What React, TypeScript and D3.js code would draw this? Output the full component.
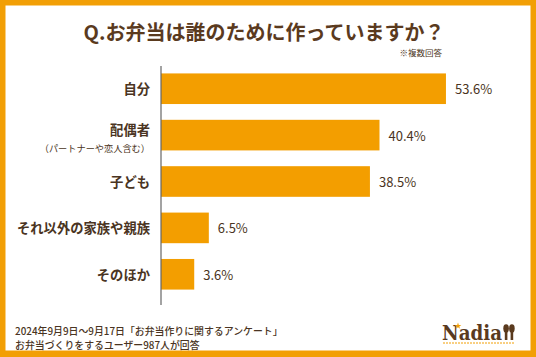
import React from "react";
import * as d3 from "d3";

const categories = ["自分", "配偶者", "子ども", "それ以外の家族や親族", "そのほか"];
const subLabels = ["", "（パートナーや恋人含む）", "", "", ""];
const values = [53.6, 40.4, 38.5, 6.5, 3.6];
const valueLabels = ["53.6%", "40.4%", "38.5%", "6.5%", "3.6%"];
const xDomain = [-3, 55];

const W = 536;
const H = 357;
const ORANGE = "#F29F05";
const BAR = "#F39E00";
const BROWN = "#4A3422";
const FONT = "'Noto Sans CJK JP', 'Noto Sans', sans-serif";

export default function App() {
  const x = d3.scaleLinear().domain(xDomain).range([161, 453]);
  const y = d3
    .scaleBand<string>()
    .domain(categories)
    .range([66, 297])
    .paddingInner(0.34)
    .paddingOuter(0.16);
  const x0 = x(xDomain[0]);

  return (
    <svg
      width={W}
      height={H}
      style={{ position: "absolute", left: 0, top: 0, display: "block" }}
      fontFamily={FONT}
    >
      <rect x={0} y={0} width={W} height={H} fill={ORANGE} />
      <rect x={5.5} y={5.5} width={525} height={345} fill="#ffffff" />

      <text
        x={264}
        y={31}
        textAnchor="middle"
        dominantBaseline="central"
        fontSize={20}
        fontWeight={700}
        fill="#5A3A1E"
      >
        Q.お弁当は誰のために作っていますか？
      </text>
      <text
        x={442}
        y={52}
        textAnchor="end"
        dominantBaseline="central"
        fontSize={8.5}
        fill={BROWN}
      >
        ※複数回答
      </text>

      {categories.map((c, i) => {
        const by = y(c)!;
        const bh = y.bandwidth();
        const cy = by + bh / 2;
        return (
          <g key={c}>
            <rect x={x0} y={by} width={x(values[i]) - x0} height={bh} fill={BAR} />
            <text
              x={x(values[i]) + 9}
              y={cy}
              dominantBaseline="central"
              fontSize={13}
              fill={BROWN}
            >
              {valueLabels[i]}
            </text>
            {subLabels[i] ? (
              <>
                <text
                  x={150}
                  y={cy - 6}
                  textAnchor="end"
                  dominantBaseline="central"
                  fontSize={13.3}
                  fontWeight={700}
                  fill={BROWN}
                >
                  {c}
                </text>
                <text
                  x={150}
                  y={cy + 12.5}
                  textAnchor="end"
                  dominantBaseline="central"
                  fontSize={9.2}
                  fill={BROWN}
                >
                  {subLabels[i]}
                </text>
              </>
            ) : (
              <text
                x={150}
                y={cy}
                textAnchor="end"
                dominantBaseline="central"
                fontSize={13.3}
                fontWeight={700}
                fill={BROWN}
              >
                {c}
              </text>
            )}
          </g>
        );
      })}

      <line x1={x0} x2={x0} y1={66} y2={305} stroke="#666" strokeWidth={1.2} />

      <text x={15} y={331} dominantBaseline="central" fontSize={9.9} fill={BROWN} fontWeight={500}>
        2024年9月9日～9月17日「お弁当作りに関するアンケート」
      </text>
      <text x={15} y={344.5} dominantBaseline="central" fontSize={9.9} fill={BROWN} fontWeight={500}>
        お弁当づくりをするユーザー987人が回答
      </text>

      <g>
        <text
          x={442}
          y={340}
          fontFamily="'DejaVu Serif', 'Liberation Serif', serif"
          fontSize={20}
          fontWeight={700}
          fill="#5A3A1E"
          textLength={60}
          lengthAdjust="spacingAndGlyphs"
        >
          Nadia
        </text>
        <path
          d={d3.symbol(d3.symbolStar, 14)()!}
          transform="translate(458,326)"
          fill={ORANGE}
        />
        {/* fork */}
        <rect x={504.8} y={330} width={2.6} height={10} fill="#5A3A1E" />
        <ellipse cx={506.1} cy={328.5} rx={2.8} ry={4.2} fill="#5A3A1E" />
        {/* knife */}
        <rect x={510.6} y={330} width={2.6} height={10} fill="#5A3A1E" />
        <ellipse cx={511.9} cy={328.5} rx={2.8} ry={4.2} fill="#5A3A1E" />
        <line x1={443} x2={515} y1={343} y2={343} stroke={ORANGE} strokeWidth={1} strokeDasharray="2,1" />
      </g>
    </svg>
  );
}
